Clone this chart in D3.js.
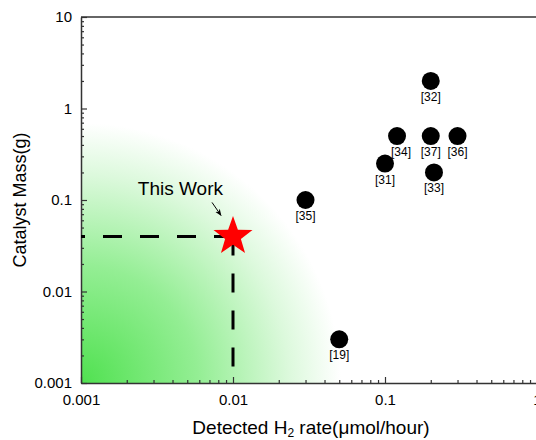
<!DOCTYPE html>
<html><head><meta charset="utf-8">
<script src="https://cdn.jsdelivr.net/npm/d3@7"></script>
<style>body{margin:0;background:#fff}svg{display:block}text{font-family:"Liberation Sans",Arial,sans-serif}</style>
</head><body><svg id="c" width="536" height="440"></svg>
<script>
const refLabels = ["[32]","[34]","[37]","[36]","[31]","[33]","[35]","[19]"];
const refRates  = [0.2, 0.12, 0.2, 0.3, 0.1, 0.21, 0.03, 0.05];
const refMasses = [2, 0.5, 0.5, 0.5, 0.25, 0.2, 0.1, 0.003];
const thisRate = [0.01];
const thisMass = [0.04];
const thisLabel = "This Work";
const xTickValues = [0.001, 0.01, 0.1, 1];
const xTickLabels = ["0.001", "0.01", "0.1", "1"];
const yTickValues = [0.001, 0.01, 0.1, 1, 10];
const yTickLabels = ["0.001", "0.01", "0.1", "1", "10"];

const svg = d3.select("#c");
const L = 81, R = 537, T = 17, B = 383;
const x = d3.scaleLog().domain([0.001, 1]).range([L, R]);
const y = d3.scaleLog().domain([0.001, 10]).range([B, T]);

function minors(dom){
  const out=[]; for(let e=Math.log10(dom[0]); e<Math.log10(dom[1]); e++){for(let k=2;k<=9;k++) out.push(k*Math.pow(10,e));} return out;
}

// gradient
const defs = svg.append("defs");
const g0 = defs.append("radialGradient").attr("id","gg").attr("gradientUnits","userSpaceOnUse")
  .attr("cx", x(0.001)).attr("cy", y(0.001)).attr("r", 260);
g0.append("stop").attr("offset","0").attr("stop-color","rgb(80,225,80)");
g0.append("stop").attr("offset","0.45").attr("stop-color","rgb(148,238,148)");
g0.append("stop").attr("offset","0.8").attr("stop-color","rgb(220,249,220)");
g0.append("stop").attr("offset","1").attr("stop-color","#ffffff");
defs.append("marker").attr("id","ah").attr("viewBox","0 0 10 10").attr("refX",9).attr("refY",5)
  .attr("markerWidth",7).attr("markerHeight",7).attr("orient","auto").attr("markerUnits","userSpaceOnUse")
  .append("path").attr("d","M0,1 L10,5 L0,9 L3,5 Z").attr("fill","#000");

svg.append("rect").attr("x",L).attr("y",T).attr("width",R-L).attr("height",B-T).attr("fill","url(#gg)");

// axes
svg.append("g").attr("transform",`translate(0,${B})`)
  .call(d3.axisBottom(x).tickValues(xTickValues).tickFormat((d,i)=>xTickLabels[i]).tickSize(-6).tickPadding(11).tickSizeOuter(0));
svg.append("g").attr("transform",`translate(0,${B})`)
  .call(d3.axisBottom(x).tickValues(minors(x.domain())).tickFormat("").tickSize(-3).tickSizeOuter(0))
  .call(g=>g.select(".domain").remove());
svg.append("g").attr("transform",`translate(${L},0)`)
  .call(d3.axisLeft(y).tickValues(yTickValues).tickFormat((d,i)=>yTickLabels[i]).tickSize(-6).tickPadding(9).tickSizeOuter(0));
svg.append("g").attr("transform",`translate(${L},0)`)
  .call(d3.axisLeft(y).tickValues(minors(y.domain())).tickFormat("").tickSize(-3).tickSizeOuter(0))
  .call(g=>g.select(".domain").remove());
svg.append("line").attr("x1",L).attr("x2",R).attr("y1",T).attr("y2",T).attr("stroke","#333").attr("stroke-width",1.5);
svg.selectAll(".domain").attr("stroke","#333").attr("stroke-width",1.5);
svg.selectAll(".tick line").attr("stroke","#333").attr("stroke-width",1.2);
svg.selectAll(".tick text").attr("font-size",15).attr("fill","#000").style("font-family","Liberation Sans, Arial, sans-serif");

// titles
const xt = svg.append("text").attr("x",311).attr("y",434).attr("text-anchor","middle").attr("font-size",19);
xt.append("tspan").text("Detected H");
xt.append("tspan").text("2").attr("font-size",12).attr("dy",3);
xt.append("tspan").text(" rate(μmol/hour)").attr("dy",-3);
svg.append("text").attr("transform","translate(26,200) rotate(-90)").attr("text-anchor","middle").attr("font-size",18).text("Catalyst Mass(g)");

// dashed guides
const sx = x(thisRate[0]), sy = y(thisMass[0]);
svg.append("line").attr("x1",sx).attr("y1",sy).attr("x2",x(0.001)).attr("y2",sy)
  .attr("stroke","#000").attr("stroke-width",3).attr("stroke-dasharray","19,18");
svg.append("line").attr("x1",sx).attr("y1",sy).attr("x2",sx).attr("y2",y(0.001))
  .attr("stroke","#000").attr("stroke-width",3).attr("stroke-dasharray","19,18");

// reference points
const pts = refLabels.map((l,i)=>({l, r:refRates[i], m:refMasses[i]}));
svg.selectAll("circle.p").data(pts).join("circle").attr("class","p")
  .attr("cx",d=>x(d.r)).attr("cy",d=>y(d.m)).attr("r",9).attr("fill","#000");
svg.selectAll("text.pl").data(pts).join("text").attr("class","pl")
  .attr("x",d=>x(d.r)+(d.l==="[34]"?4:0)).attr("y",d=>y(d.m)+20).attr("text-anchor","middle").attr("font-size",12).text(d=>d.l);

// star
function starPath(cx,cy,Ro,Ri){
  let p=""; for(let i=0;i<10;i++){const a=-Math.PI/2+i*Math.PI/5; const rr=i%2?Ri:Ro; p+=(i?"L":"M")+(cx+rr*Math.cos(a)).toFixed(2)+","+(cy+rr*Math.sin(a)).toFixed(2);} return p+"Z";
}
svg.append("path").attr("d",starPath(sx,sy,20.5,8.3)).attr("fill","#ff0000");
svg.append("text").attr("x",sx-10).attr("y",sy-41).attr("text-anchor","end").attr("font-size",19).text(thisLabel);
svg.append("line").attr("x1",sx-21).attr("y1",sy-34).attr("x2",sx-12).attr("y2",sy-21)
  .attr("stroke","#000").attr("stroke-width",1).attr("marker-end","url(#ah)");
</script></body></html>
